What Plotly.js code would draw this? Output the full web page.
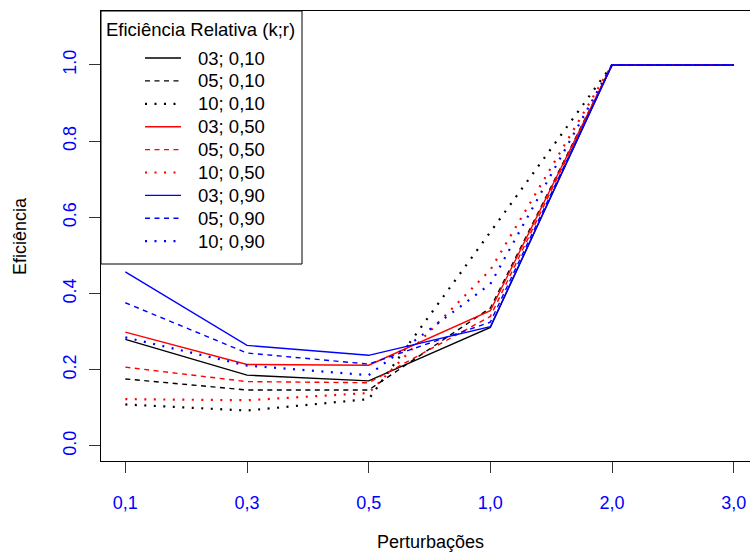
<!DOCTYPE html>
<html>
<head>
<meta charset="utf-8">
<script src="https://cdn.plot.ly/plotly-3.0.1.min.js"></script>
<style>
html, body { margin: 0; padding: 0; overflow: hidden; background: #fff; }
#chart { width: 770px; height: 553px; }
</style>
</head>
<body>
<div id="chart"></div>
<script>
// Categories (perturbations)
const categories = ['0,1', '0,3', '0,5', '1,0', '2,0', '3,0'];

// Series values (k; r)
const k03_r010 = [0.280, 0.186, 0.171, 0.311, 1.0, 1.0];
const k05_r010 = [0.176, 0.147, 0.147, 0.362, 1.0, 1.0];
const k10_r010 = [0.109, 0.093, 0.123, 0.560, 1.0, 1.0];
const k03_r050 = [0.299, 0.214, 0.212, 0.355, 1.0, 1.0];
const k05_r050 = [0.207, 0.169, 0.166, 0.340, 1.0, 1.0];
const k10_r050 = [0.123, 0.120, 0.139, 0.462, 1.0, 1.0];
const k03_r090 = [0.457, 0.264, 0.238, 0.313, 1.0, 1.0];
const k05_r090 = [0.376, 0.244, 0.215, 0.325, 1.0, 1.0];
const k10_r090 = [0.285, 0.211, 0.186, 0.425, 1.0, 1.0];

const seriesLabels = ['03; 0,10', '05; 0,10', '10; 0,10',
                      '03; 0,50', '05; 0,50', '10; 0,50',
                      '03; 0,90', '05; 0,90', '10; 0,90'];
const seriesValues = [k03_r010, k05_r010, k10_r010,
                      k03_r050, k05_r050, k10_r050,
                      k03_r090, k05_r090, k10_r090];

const yTickVals = [0.0, 0.2, 0.4, 0.6, 0.8, 1.0];
const yTickText = ['0.0', '0.2', '0.4', '0.6', '0.8', '1.0'];

// Styles
const colors = ['#000000', '#000000', '#000000', '#FF0000', '#FF0000', '#FF0000', '#0000FF', '#0000FF', '#0000FF'];
const dashStyles = ['solid', '5px,4.5px', '2px,7.5px'];
const widths = [1.4, 1.4, 2.2];

const FONT = 'Liberation Sans, Arial, Helvetica, sans-serif';

// plot area geometry (pixels)
const W = 770, H = 553;
const M = {l: 101, r: 12, t: 11, b: 92};
const PW = W - M.l - M.r, PH = H - M.t - M.b;
const px2x = p => (p - M.l) / PW;
const px2y = p => (H - M.b - p) / PH;

const traces = seriesValues.map((vals, i) => ({
  type: 'scatter',
  mode: 'lines',
  x: categories,
  y: vals,
  name: seriesLabels[i],
  showlegend: false,
  line: {color: colors[i], dash: dashStyles[i % 3], width: widths[i % 3]},
  hoverinfo: 'skip'
}));

// Custom legend
const legBox = {x0: 101, y0: 11, x1: 302, y1: 264};
const shapes = [{
  type: 'rect', xref: 'paper', yref: 'paper', layer: 'above',
  x0: px2x(legBox.x0), x1: px2x(legBox.x1), y0: px2y(legBox.y1), y1: px2y(legBox.y0),
  fillcolor: '#ffffff', line: {color: '#000000', width: 1}
}];
const annotations = [{
  xref: 'paper', yref: 'paper', x: px2x(104), y: px2y(29),
  xanchor: 'left', yanchor: 'middle', showarrow: false,
  text: 'Eficiência Relativa (k;r)', font: {family: FONT, size: 18.5, color: '#000'}
}];
seriesLabels.forEach((lab, i) => {
  const yy = 58 + i * 22.9;
  shapes.push({
    type: 'line', xref: 'paper', yref: 'paper', layer: 'above',
    x0: px2x(145), x1: px2x(181), y0: px2y(yy), y1: px2y(yy),
    line: {color: colors[i], dash: dashStyles[i % 3], width: widths[i % 3]}
  });
  annotations.push({
    xref: 'paper', yref: 'paper', x: px2x(196), y: px2y(yy),
    xanchor: 'left', yanchor: 'middle', showarrow: false,
    text: lab, font: {family: FONT, size: 18.5, color: '#000'}
  });
});

// Axis titles
annotations.push({
  xref: 'paper', yref: 'paper', x: px2x(430), y: px2y(542),
  xanchor: 'center', yanchor: 'middle', showarrow: false,
  text: 'Perturbações', font: {family: FONT, size: 18, color: '#000'}
});
annotations.push({
  xref: 'paper', yref: 'paper', x: px2x(20), y: px2y(236),
  xanchor: 'center', yanchor: 'middle', showarrow: false, textangle: -90,
  text: 'Eficiência', font: {family: FONT, size: 18, color: '#000'}
});

const layout = {
  width: W, height: H,
  margin: M,
  paper_bgcolor: '#ffffff', plot_bgcolor: '#ffffff',
  font: {family: FONT, size: 18, color: '#000'},
  xaxis: {
    type: 'category', range: [-0.2, 5.2],
    tickvals: categories, ticktext: categories,
    showgrid: false, zeroline: false,
    showline: true, mirror: true, linecolor: '#000', linewidth: 1,
    ticks: 'outside', ticklen: 11, tickwidth: 1, tickcolor: '#333',
    tickfont: {family: FONT, size: 18, color: '#0000FF'},
    ticklabelstandoff: 14
  },
  yaxis: {
    range: [-0.0394, 1.1417],
    tickvals: yTickVals, ticktext: yTickText,
    tickangle: -90,
    showgrid: false, zeroline: false,
    showline: true, mirror: true, linecolor: '#000', linewidth: 1,
    ticks: 'outside', ticklen: 11, tickwidth: 1, tickcolor: '#333',
    tickfont: {family: FONT, size: 18, color: '#0000FF'},
    ticklabelstandoff: 6
  },
  shapes: shapes,
  annotations: annotations,
  showlegend: false
};

Plotly.newPlot('chart', traces, layout, {displayModeBar: false, staticPlot: true});
</script>
</body>
</html>
